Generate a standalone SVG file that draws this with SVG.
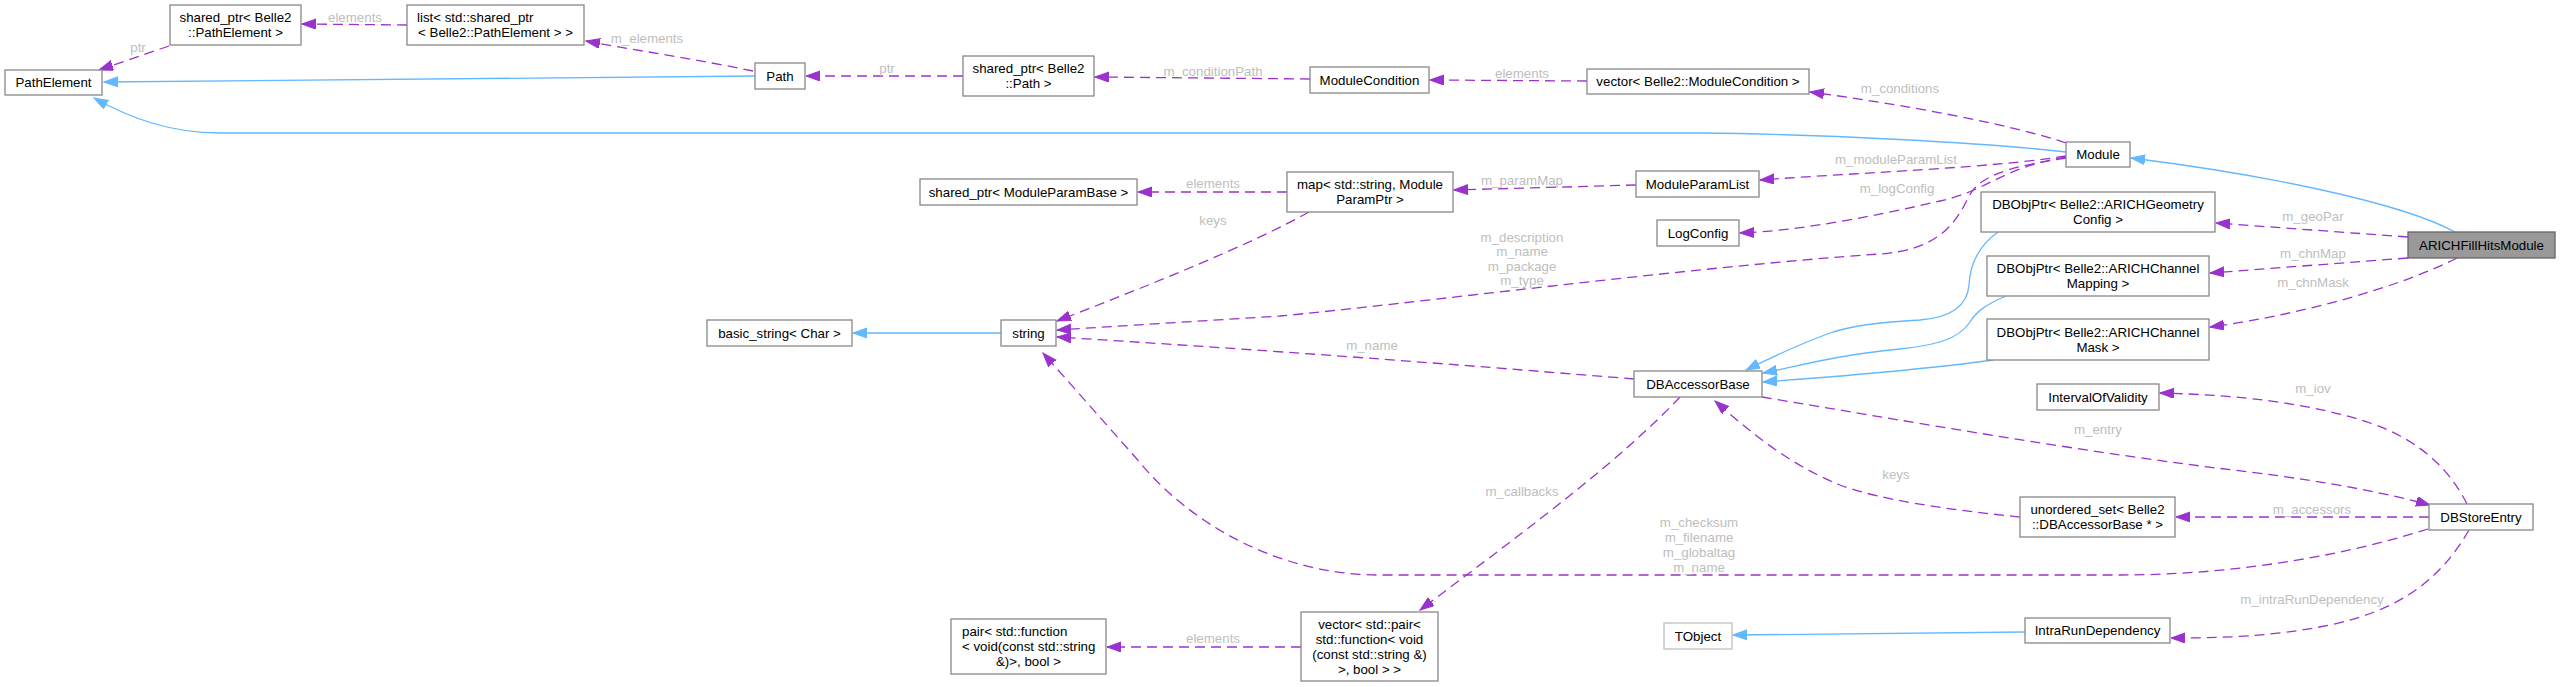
<svg xmlns="http://www.w3.org/2000/svg" width="2560" height="687" viewBox="0 0 2560 687">
<style>
.node rect{fill:#fff;stroke:#888;stroke-width:1.3}
.node text{font-family:"Liberation Sans",Arial,Helvetica,sans-serif;font-size:13.3px;fill:#000;text-anchor:middle}
.node text.l{text-anchor:start}
#n_ARICH rect{fill:#999;stroke:#666}
#n_TObject rect{stroke:#bfbfbf}
.e{fill:none;stroke:#9a32cd;stroke-width:1.3;stroke-dasharray:10,6;marker-end:url(#ap)}
.i{fill:none;stroke:#63b8ff;stroke-width:1.3;marker-end:url(#ab)}
.lbl{font-family:"Liberation Sans",Arial,Helvetica,sans-serif;font-size:13.3px;fill:#bebebe;text-anchor:middle}
</style>
<defs>
<marker id="ap" markerUnits="userSpaceOnUse" markerWidth="15" markerHeight="11" refX="14" refY="5" orient="auto"><path d="M0,0 L14,5 L0,10 z" fill="#9a32cd" stroke="#9a32cd" stroke-width="1"/></marker>
<marker id="ab" markerUnits="userSpaceOnUse" markerWidth="15" markerHeight="11" refX="14" refY="5" orient="auto"><path d="M0,0 L14,5 L0,10 z" fill="#63b8ff" stroke="#63b8ff" stroke-width="1"/></marker>
</defs>
<rect width="2560" height="687" fill="#fff"/>
<g id="connectors">
<path class="e" d="M169,46 L99,70"/>
<path class="e" d="M407,25 L302,24"/>
<path class="e" d="M753,71 C700,60 640,51 586,41"/>
<path class="i" d="M755,76 C500,77 300,80 104,82"/>
<path class="e" d="M963,76 L806,76"/>
<path class="e" d="M1310,79 L1095,77"/>
<path class="e" d="M1587,81 L1430,80"/>
<path class="e" d="M2066,143 C2010,124 1900,104 1810,92"/>
<path class="i" d="M2066,152 C1990,143 1820,134 1700,133 L220,133 C170,133 130,118 94,98"/>
<path class="e" d="M2066,156 C1990,168 1870,172 1760,180"/>
<path class="e" d="M1636,185 L1454,190"/>
<path class="e" d="M1287,192 L1138,192"/>
<path class="e" d="M2066,157 C2000,168 1990,190 1940,201 C1880,215 1800,231 1740,233"/>
<path class="e" d="M2066,158 C2000,168 1978,178 1968,198 C1952,232 1930,250 1880,254 C1700,266 1400,305 1280,316 L1057,330"/>
<path class="e" d="M1309,212 C1250,245 1150,285 1057,321"/>
<path class="e" d="M1634,379 C1500,368 1300,352 1057,337"/>
<path class="i" d="M1998,232 C1977,247 1970,265 1969,285 C1967,310 1945,318 1920,320 C1880,322 1850,326 1830,333 C1800,344 1772,357 1746,370"/>
<path class="i" d="M2006,296 C1985,305 1976,312 1970,322 C1958,340 1935,345 1900,349 C1830,356 1800,366 1763,373"/>
<path class="i" d="M1993,360 C1950,366 1900,372 1763,382"/>
<path class="i" d="M2455,232 C2400,202 2260,174 2131,158"/>
<path class="e" d="M2408,237 L2216,223"/>
<path class="e" d="M2408,258 L2210,273"/>
<path class="e" d="M2457,258 C2400,287 2300,315 2210,327"/>
<path class="e" d="M2467,504 C2450,470 2420,440 2370,423 C2310,403 2240,395 2160,393"/>
<path class="e" d="M1762,397 C1900,420 2100,455 2250,472 C2330,482 2390,494 2430,505"/>
<path class="e" d="M2429,517 L2176,517"/>
<path class="e" d="M2020,517 C1950,510 1880,500 1840,485 C1790,465 1750,432 1715,401"/>
<path class="e" d="M2428,529 C2330,560 2220,575 2120,575 L1380,575 C1280,575 1190,525 1136,458 L1043,353"/>
<path class="e" d="M1680,397 C1620,460 1540,520 1420,610"/>
<path class="e" d="M1301,647 L1107,647"/>
<path class="i" d="M2025,632 L1733,635"/>
<path class="e" d="M2469,530 C2440,580 2400,610 2330,625 C2270,637 2220,638 2171,638"/>
<path class="i" d="M1001,333 L853,333"/>
<text class="lbl" x="138" y="51.5">ptr</text>
<text class="lbl" x="355" y="21.5">elements</text>
<text class="lbl" x="647" y="42.5">m_elements</text>
<text class="lbl" x="887" y="72.5">ptr</text>
<text class="lbl" x="1213" y="75.5">m_conditionPath</text>
<text class="lbl" x="1522" y="77.5">elements</text>
<text class="lbl" x="1900" y="92.5">m_conditions</text>
<text class="lbl" x="1213" y="187.5">elements</text>
<text class="lbl" x="1213" y="224.5">keys</text>
<text class="lbl" x="1522" y="184.5">m_paramMap</text>
<text class="lbl" x="1896" y="163.5">m_moduleParamList</text>
<text class="lbl" x="1897" y="192.5">m_logConfig</text>
<text class="lbl" x="1522" y="241.5">m_description</text>
<text class="lbl" x="1522" y="256">m_name</text>
<text class="lbl" x="1522" y="270.5">m_package</text>
<text class="lbl" x="1522" y="285">m_type</text>
<text class="lbl" x="2313" y="220.5">m_geoPar</text>
<text class="lbl" x="2313" y="257.5">m_chnMap</text>
<text class="lbl" x="2313" y="286.5">m_chnMask</text>
<text class="lbl" x="1372" y="349.5">m_name</text>
<text class="lbl" x="2313" y="392.5">m_iov</text>
<text class="lbl" x="2098" y="433.5">m_entry</text>
<text class="lbl" x="1896" y="478.5">keys</text>
<text class="lbl" x="1522" y="495.5">m_callbacks</text>
<text class="lbl" x="2312" y="513.5">m_accessors</text>
<text class="lbl" x="1699" y="526.5">m_checksum</text>
<text class="lbl" x="1699" y="541.5">m_filename</text>
<text class="lbl" x="1699" y="556.5">m_globaltag</text>
<text class="lbl" x="1699" y="571.5">m_name</text>
<text class="lbl" x="2312" y="603.5">m_intraRunDependency</text>
<text class="lbl" x="1213" y="642.5">elements</text>
</g>
<g id="n_ARICH" class="node"><rect x="2408" y="232" width="147" height="26"/><text x="2481.5" y="249.5">ARICHFillHitsModule</text></g>
<g id="n_Module" class="node"><rect x="2066" y="142" width="64" height="25"/><text x="2098" y="159">Module</text></g>
<g id="n_PathElement" class="node"><rect x="5" y="70" width="97" height="25"/><text x="53.5" y="87">PathElement</text></g>
<g id="n_SharedPtrPathElement" class="node"><rect x="170" y="5" width="131" height="40"/><text x="235.5" y="22">shared_ptr&lt; Belle2</text><text x="235.5" y="37">::PathElement &gt;</text></g>
<g id="n_ListSharedPtr" class="node"><rect x="407" y="5" width="177" height="40"/><text class="l" x="417" y="22">list&lt; std::shared_ptr</text><text x="495.5" y="37">&lt; Belle2::PathElement &gt; &gt;</text></g>
<g id="n_Path" class="node"><rect x="755" y="63" width="50" height="26"/><text x="780" y="80.5">Path</text></g>
<g id="n_SharedPtrPath" class="node"><rect x="963" y="56" width="131" height="40"/><text x="1028.5" y="73">shared_ptr&lt; Belle2</text><text x="1028.5" y="88">::Path &gt;</text></g>
<g id="n_ModuleCondition" class="node"><rect x="1310" y="67" width="119" height="26"/><text x="1369.5" y="84.5">ModuleCondition</text></g>
<g id="n_VectorModuleCondition" class="node"><rect x="1587" y="69" width="222" height="25"/><text x="1698" y="86">vector&lt; Belle2::ModuleCondition &gt;</text></g>
<g id="n_SharedPtrModuleParamBase" class="node"><rect x="920" y="179" width="217" height="26"/><text x="1028.5" y="196.5">shared_ptr&lt; ModuleParamBase &gt;</text></g>
<g id="n_MapParam" class="node"><rect x="1287" y="172" width="166" height="40"/><text x="1370" y="189">map&lt; std::string, Module</text><text x="1370" y="204">ParamPtr &gt;</text></g>
<g id="n_ModuleParamList" class="node"><rect x="1636" y="171" width="123" height="26"/><text x="1697.5" y="188.5">ModuleParamList</text></g>
<g id="n_LogConfig" class="node"><rect x="1657" y="220" width="82" height="26"/><text x="1698" y="237.5">LogConfig</text></g>
<g id="n_DBObjPtrGeo" class="node"><rect x="1981" y="192" width="234" height="40"/><text x="2098" y="208.5">DBObjPtr&lt; Belle2::ARICHGeometry</text><text x="2098" y="223.5">Config &gt;</text></g>
<g id="n_DBObjPtrMapping" class="node"><rect x="1987" y="256" width="222" height="40"/><text x="2098" y="272.5">DBObjPtr&lt; Belle2::ARICHChannel</text><text x="2098" y="287.5">Mapping &gt;</text></g>
<g id="n_DBObjPtrMask" class="node"><rect x="1987" y="319" width="222" height="41"/><text x="2098" y="336.5">DBObjPtr&lt; Belle2::ARICHChannel</text><text x="2098" y="351.5">Mask &gt;</text></g>
<g id="n_BasicString" class="node"><rect x="707" y="320" width="145" height="26"/><text x="779.5" y="337.5">basic_string&lt; Char &gt;</text></g>
<g id="n_String" class="node"><rect x="1001" y="320" width="55" height="26"/><text x="1028.5" y="337.5">string</text></g>
<g id="n_DBAccessorBase" class="node"><rect x="1634" y="371" width="128" height="26"/><text x="1698" y="388.5">DBAccessorBase</text></g>
<g id="n_IntervalOfValidity" class="node"><rect x="2037" y="384" width="122" height="26"/><text x="2098" y="401.5">IntervalOfValidity</text></g>
<g id="n_UnorderedSet" class="node"><rect x="2020" y="497" width="155" height="40"/><text x="2097.5" y="514">unordered_set&lt; Belle2</text><text x="2097.5" y="529">::DBAccessorBase * &gt;</text></g>
<g id="n_DBStoreEntry" class="node"><rect x="2429" y="504" width="104" height="26"/><text x="2481" y="521.5">DBStoreEntry</text></g>
<g id="n_VectorPair" class="node"><rect x="1301" y="612" width="137" height="69"/><text x="1369.5" y="628.5">vector&lt; std::pair&lt;</text><text x="1369.5" y="643.5">std::function&lt; void</text><text x="1369.5" y="658.5">(const std::string &amp;)</text><text x="1369.5" y="673.5">&gt;, bool &gt; &gt;</text></g>
<g id="n_Pair" class="node"><rect x="951" y="619" width="155" height="55"/><text class="l" x="962" y="636">pair&lt; std::function</text><text class="l" x="962" y="651">&lt; void(const std::string</text><text x="1028.5" y="666">&amp;)&gt;, bool &gt;</text></g>
<g id="n_TObject" class="node"><rect x="1664" y="623" width="68" height="26"/><text x="1698" y="640.5">TObject</text></g>
<g id="n_IntraRunDependency" class="node"><rect x="2025" y="618" width="145" height="25"/><text x="2097.5" y="635">IntraRunDependency</text></g>
</svg>
